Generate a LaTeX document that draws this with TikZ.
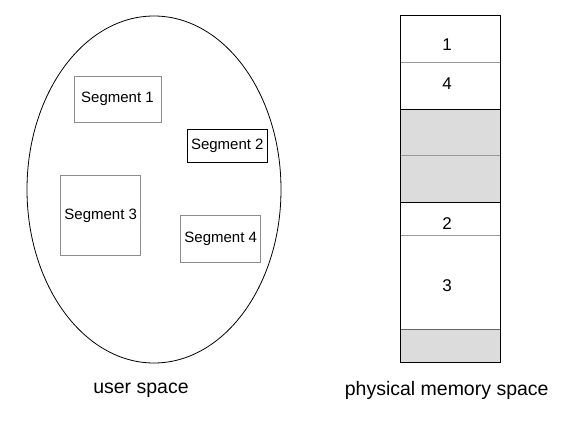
\documentclass[tikz,border=0pt]{standalone}
\usepackage{fontspec}
\setmainfont{Liberation Sans}
\usetikzlibrary{shapes.geometric}
\definecolor{cellgray}{HTML}{DCDCDC}
\definecolor{segborder}{HTML}{8C8C8C}
\definecolor{sepgray}{HTML}{9A9A9A}
\begin{document}
\begin{tikzpicture}[x=1pt,y=-1pt,
  segbox/.style={draw=segborder,line width=1pt,rectangle,inner sep=0pt,
    font=\fontsize{15}{18}\selectfont},
  cellbox/.style={rectangle,inner sep=0pt,minimum width=99.3pt,draw=none},
  freecell/.style={cellbox,fill=cellgray},
  digit/.style={inner sep=0pt,font=\fontsize{17}{20}\selectfont},
  caption/.style={inner sep=0pt,font=\fontsize{19.5}{23}\selectfont},
  sepg/.style={draw=sepgray,line width=1pt},
  sepb/.style={draw=black,line width=1pt}]
\useasboundingbox (0,0) rectangle (584,423);
% user space
\node[ellipse,draw=black,line width=0.8pt,inner sep=0pt,
  minimum width=254pt,minimum height=347pt] (us) at (154,189.5) {};
\node[segbox,minimum width=87pt,minimum height=46pt] (s1) at (117.5,99) {Segment 1};
\node[segbox,draw=black,minimum width=80pt,minimum height=33pt] (s2) at (227.3,145.8) {Segment 2};
\node[segbox,minimum width=80pt,minimum height=79.7pt] (s3) at (100.7,215.8) {Segment 3};
\node[segbox,minimum width=80pt,minimum height=46.6pt] (s4) at (220.7,239) {Segment 4};
\node[caption] (ul) at (141,390) {user space};
% physical memory
\node[cellbox,minimum height=46.7pt] (c1) at (450.35,39.35) {};
\node[cellbox,minimum height=46.6pt] (c2) at (450.35,86) {};
\node[freecell,minimum height=46.4pt] (c3) at (450.35,132.5) {};
\node[freecell,minimum height=46.6pt] (c4) at (450.35,179) {};
\node[cellbox,minimum height=33.4pt] (c5) at (450.35,219) {};
\node[cellbox,minimum height=93.6pt] (c6) at (450.35,282.5) {};
\node[freecell,minimum height=33pt] (c7) at (450.35,345.8) {};
\draw[sepg] (c1.south west) -- (c1.south east);
\draw[sepb] (c2.south west) -- (c2.south east);
\draw[sepg] (c3.south west) -- (c3.south east);
\draw[sepb] (c4.south west) -- (c4.south east);
\draw[sepg] (c5.south west) -- (c5.south east);
\draw[draw=black!60,line width=1pt] (c6.south west) -- (c6.south east);
\draw[line width=1pt] (c1.north west) rectangle (c7.south east);
\node[digit] (d1) at (447,45) {1};
\node[digit] (d4) at (447,84) {4};
\node[digit] (d2) at (447,224) {2};
\node[digit] (d3) at (447,285.7) {3};
\node[caption] (pl) at (446.7,390) {physical memory space};
\end{tikzpicture}
\end{document}
